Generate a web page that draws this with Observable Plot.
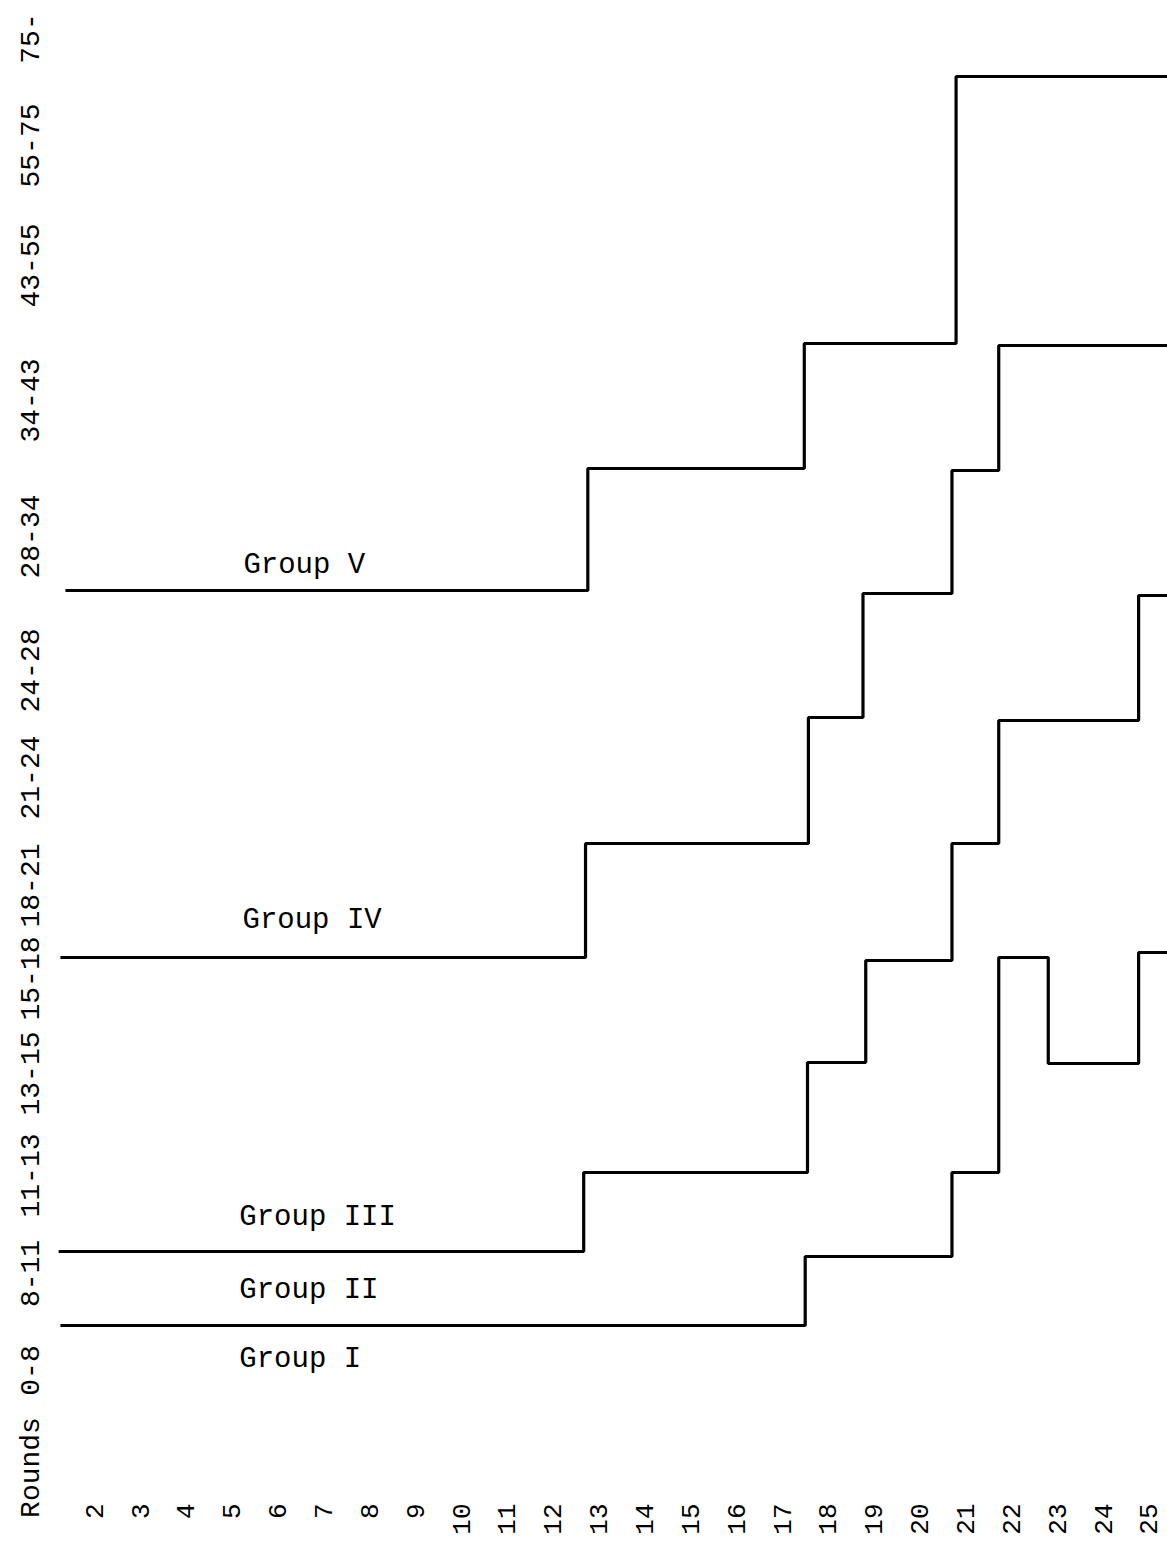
<!DOCTYPE html>
<html>
<head>
<meta charset="utf-8">
<script src="https://cdn.jsdelivr.net/npm/d3@7"></script>
<script src="https://cdn.jsdelivr.net/npm/@observablehq/plot@0.6"></script>
<style>
  html, body { margin: 0; padding: 0; background: #fff; }
  #chart svg { display: block; }
</style>
</head>
<body>
<div id="chart"></div>
<script>
// Rounds shown along the bottom
const rounds = [2,3,4,5,6,7,8,9,10,11,12,13,14,15,16,17,18,19,20,21,22,23,24,25];

// Class labels along the left and where they sit on the level scale
const levelLabels = ["0-8","8-11","11-13","13-15","15-18","18-21","21-24","24-28","28-34","34-43","43-55","55-75","75-"];
const levelTicks  = [0, 0.97, 1.95, 2.97, 3.92, 4.85, 5.93, 7.0, 8.34, 9.7, 11.05, 12.25, 13.32];

// Step lines: round where each step begins, and the level held from there
const groupI_II_rounds = [1.26, 17.5, 20.7, 21.72, 22.8, 24.77, 25.4];
const groupI_II_levels = [0.45, 1.14, 1.98, 4.13, 3.07, 4.18, 4.18];

const groupIII_rounds = [1.22, 12.67, 17.55, 18.82, 20.7, 21.72, 24.77, 25.4];
const groupIII_levels = [1.19, 1.98, 3.08, 4.10, 5.27, 6.50, 7.75, 7.75];

const groupIV_rounds = [1.26, 12.71, 17.57, 18.76, 20.7, 21.72, 25.4];
const groupIV_levels = [4.13, 5.27, 6.53, 7.77, 9.0, 10.25, 10.25];

const groupV_rounds = [1.37, 12.76, 17.48, 20.79, 25.4];
const groupV_levels = [7.8, 9.02, 10.27, 12.94, 12.94];

// Group labels
const groupNames  = ["Group V", "Group IV", "Group III", "Group II", "Group I"];
const groupLabelRounds = [5.25, 5.23, 5.16, 5.16, 5.16];
const groupLabelLevels = [8.07, 4.52, 1.55, 0.82, 0.13];

const series = [
  {group: "I-II", r: groupI_II_rounds, l: groupI_II_levels},
  {group: "III", r: groupIII_rounds, l: groupIII_levels},
  {group: "IV", r: groupIV_rounds, l: groupIV_levels},
  {group: "V", r: groupV_rounds, l: groupV_levels}
];
const points = series.flatMap(s => s.r.map((round, i) => ({group: s.group, round, level: s.l[i]})));
const yAxis = levelLabels.map((label, i) => ({label, level: levelTicks[i]}));
const groupLabels = groupNames.map((name, i) => ({name, round: groupLabelRounds[i], level: groupLabelLevels[i]}));

const font = "'Liberation Mono', 'DejaVu Sans Mono', monospace";

const chart = Plot.plot({
  width: 1167,
  height: 1543,
  marginLeft: 48,
  marginRight: 0,
  marginTop: 0,
  marginBottom: 0,
  style: {background: "#fff", fontFamily: font},
  x: {domain: [1, 25.4], axis: null},
  y: {domain: [-1.73, 13.7], axis: null},
  marks: [
    Plot.line(points, {
      x: "round", y: "level", z: "group",
      curve: "step-after", stroke: "#000", strokeWidth: 3.2,
      strokeLinejoin: "miter", strokeLinecap: "butt"
    }),
    Plot.text(groupLabels, {
      x: "round", y: "level", text: "name",
      textAnchor: "start", lineAnchor: "middle",
      fontSize: 29, fontFamily: font, fill: "#000"
    }),
    Plot.text(yAxis, {
      y: "level", text: "label", frameAnchor: "left", dx: -18,
      rotate: -90, textAnchor: "middle", lineAnchor: "middle",
      fontSize: 28, fontFamily: font, fill: "#000"
    }),
    Plot.text(rounds, {
      x: d => d, text: d => String(d), frameAnchor: "bottom", dy: -40,
      rotate: -90, textAnchor: "end", lineAnchor: "middle",
      fontSize: 26, fontFamily: font, fill: "#000"
    }),
    Plot.text(["Rounds"], {
      frameAnchor: "bottom-left", dx: -18, dy: -76,
      rotate: -90, textAnchor: "middle", lineAnchor: "middle",
      fontSize: 28, fontFamily: font, fill: "#000"
    })
  ]
});
document.getElementById("chart").append(chart);
</script>
</body>
</html>
